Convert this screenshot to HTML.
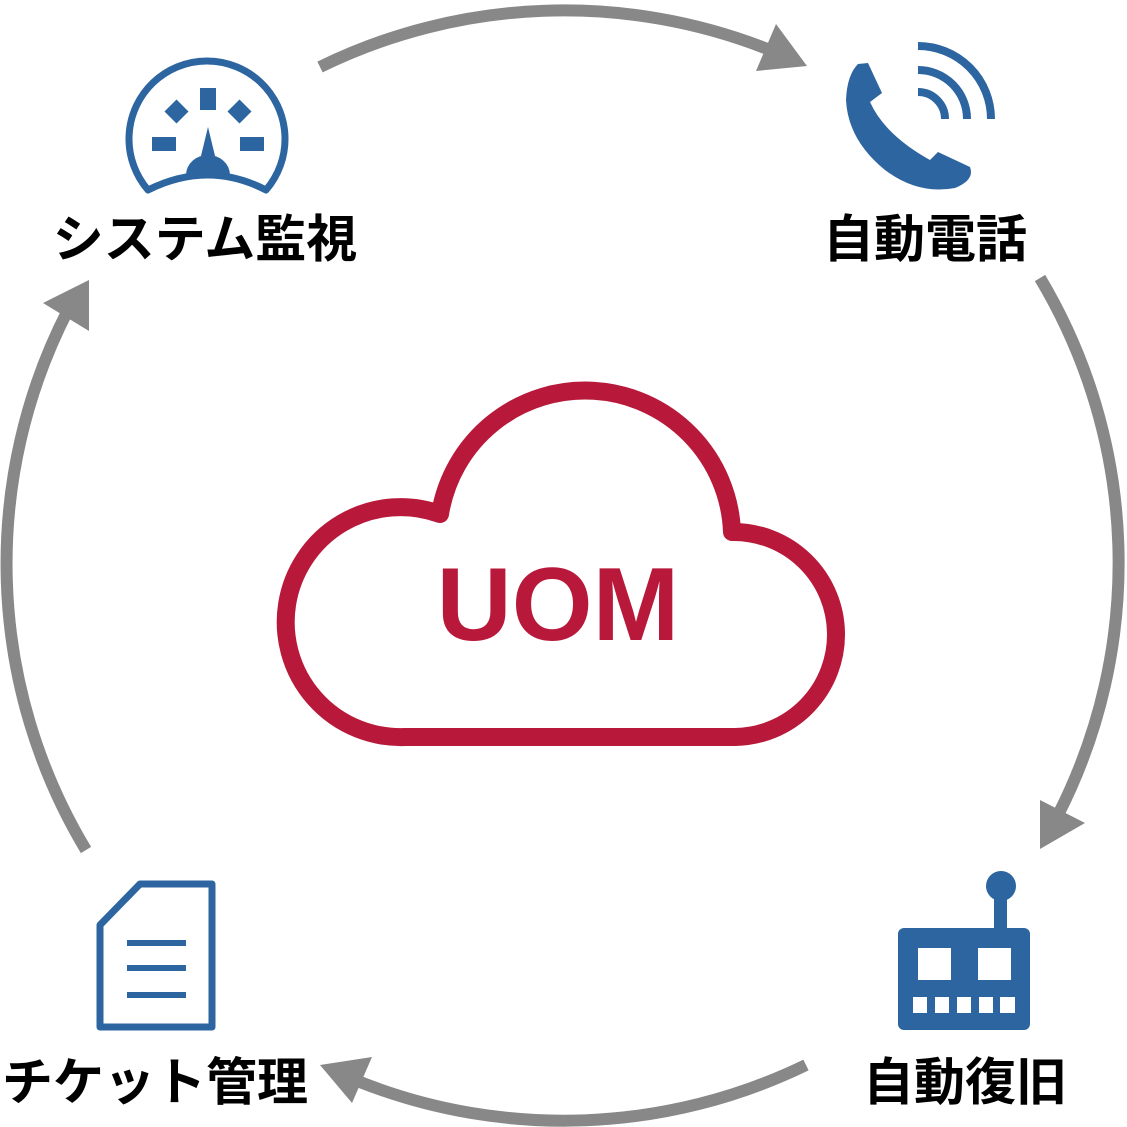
<!DOCTYPE html>
<html><head><meta charset="utf-8"><style>
html,body{margin:0;padding:0;background:#fff;width:1127px;height:1127px;overflow:hidden}
text{font-family:"Liberation Sans","Noto Sans CJK JP",sans-serif;font-weight:bold}
</style></head><body>
<svg width="1127" height="1127" viewBox="0 0 1127 1127" xmlns="http://www.w3.org/2000/svg">
<g fill="none" stroke="#888" stroke-width="12">
<path d="M320,67 A555,555 0 0 1 770,50"/>
<path d="M1040,278 A555,555 0 0 1 1058,815"/>
<path d="M806,1065 A555,555 0 0 1 360,1082"/>
<path d="M86,850 A555,555 0 0 1 68,310"/>
</g>
<g fill="#888">
<polygon points="807,66 776,24 756,71"/>
<polygon points="1040,849 1085,823 1040,800"/>
<polygon points="320,1065 372,1057 352,1103"/>
<polygon points="43,303 89,280 89,331"/>
</g>
<path d="M405,737 A115,115 0 1 1 440,514 A147,147 0 0 1 732,532 A102,102 0 0 1 735,737 Z" fill="none" stroke="#B8193A" stroke-width="18" stroke-linejoin="round"/>
<text x="558" y="640" font-size="104" fill="#B8193A" text-anchor="middle">UOM</text>
<g fill="#2D65A0">
<path d="M148,190 A78,78 0 1 1 266,190 Q208,160 148,190 Z" fill="none" stroke="#2D65A0" stroke-width="7" stroke-linejoin="round"/>
<rect x="200" y="88" width="16" height="22"/>
<rect x="168" y="103" width="17" height="17" transform="rotate(45 176.5 111.5)"/>
<rect x="231" y="103" width="17" height="17" transform="rotate(45 239.5 111.5)"/>
<rect x="152" y="137" width="24" height="14"/>
<rect x="240" y="137" width="24" height="14"/>
<polygon points="208,127 200,160 216,160"/>
<path d="M186,175 A22,20 0 0 1 230,175 Z"/>
</g>
<g fill="#2D65A0">
<path d="M858,64 L868,63 L882,93 L870,102 Q885,135 930,160 L938,152 L970,167 Q975,180 955,188 Q918,195 885,170 Q848,140 846,100 Q847,75 858,64 Z"/>
<g fill="none" stroke="#2D65A0" stroke-width="8">
<path d="M918,92 A27,27 0 0 1 945,119"/>
<path d="M918,70 A49,49 0 0 1 967,119"/>
<path d="M918,46 A73,73 0 0 1 991,119"/>
</g>
</g>
<path d="M140,884 L212,884 L212,1027 L100,1027 L100,925 Z" fill="none" stroke="#2D65A0" stroke-width="7" stroke-linejoin="round"/>
<g fill="#2D65A0"><rect x="127" y="940" width="59" height="6"/><rect x="127" y="965" width="59" height="6"/><rect x="127" y="992" width="59" height="6"/></g>
<g fill="#2D65A0">
<circle cx="1001" cy="886" r="15"/>
<rect x="994" y="890" width="13" height="42"/>
<rect x="898" y="928" width="132" height="102" rx="6"/>
</g>
<g fill="#fff">
<rect x="918" y="948" width="33" height="32"/><rect x="978" y="948" width="33" height="32"/>
<rect x="913" y="997" width="14" height="16"/><rect x="935" y="997" width="14" height="16"/><rect x="957" y="997" width="14" height="16"/><rect x="979" y="997" width="14" height="16"/><rect x="1000" y="997" width="15" height="16"/>
</g>
<g font-size="51" fill="#000">
<text x="205" y="257" text-anchor="middle">システム監視</text>
<text x="925" y="257" text-anchor="middle">自動電話</text>
<text x="965" y="1100" text-anchor="middle">自動復旧</text>
<text x="155" y="1100" text-anchor="middle">チケット管理</text>
</g>
</svg>
</body></html>
